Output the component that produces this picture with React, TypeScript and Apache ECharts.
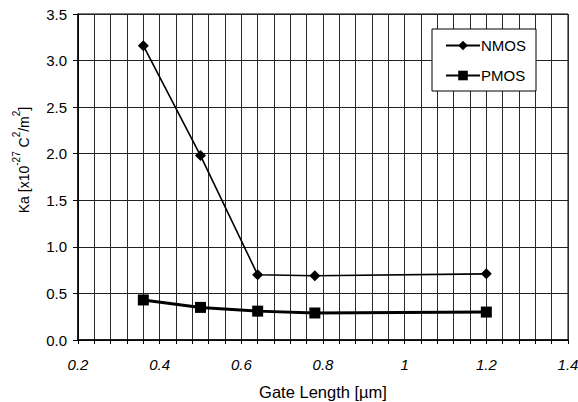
import React, { useEffect, useRef } from "react";
import * as echarts from "echarts";

const gateLength = [0.36, 0.5, 0.64, 0.78, 1.2];
const nmos = [3.16, 1.98, 0.7, 0.69, 0.71];
const pmos = [0.43, 0.35, 0.31, 0.29, 0.3];
const xTicks = { min: 0.2, max: 1.4, gridStep: 0.04, labelStep: 0.2 };
const yTicks = { min: 0, max: 3.5, interval: 0.5 };

export default function App() {
  const ref = useRef<HTMLDivElement>(null);
  useEffect(() => {
    const chart = echarts.init(ref.current!, null, { renderer: "svg" });
    const font = "Liberation Sans, Arial, sans-serif";
    const isMajor = (v: number) => Math.abs(v / xTicks.labelStep - Math.round(v / xTicks.labelStep)) < 1e-6;
    chart.setOption({
      animation: false,
      backgroundColor: "#fff",
      grid: {
        left: 78,
        right: 10,
        top: 14,
        bottom: 62,
        containLabel: false,
        outerBoundsMode: "none",
        show: true,
        borderColor: "#000",
        borderWidth: 1,
      },
      legend: {
        orient: "vertical",
        left: 432,
        top: 29,
        padding: [9, 10, 8, 13],
        itemWidth: 34,
        itemHeight: 12,
        itemGap: 15,
        backgroundColor: "#fff",
        borderColor: "#000",
        borderWidth: 1,
        textStyle: { fontFamily: font, fontSize: 15, color: "#000", padding: [0, 0, 0, -4] },
        data: ["NMOS", "PMOS"],
      },
      xAxis: {
        type: "value",
        min: xTicks.min,
        max: xTicks.max,
        interval: xTicks.gridStep,
        axisLine: { onZero: false, lineStyle: { color: "#000", width: 1.5 } },
        axisTick: { show: true, length: 4, lineStyle: { color: "#000" } },
        axisLabel: {
          fontFamily: font,
          fontSize: 15,
          fontStyle: "italic",
          color: "#000",
          margin: 17,
          hideOverlap: false,
          formatter: (v: number) => (isMajor(v) ? String(Math.round(v * 10) / 10) : ""),
        },
        splitLine: { show: true, lineStyle: { color: "#2a2a2a", width: 1 } },
        name: "Gate Length [\u00b5m]",
        nameLocation: "middle",
        nameGap: 43,
        nameTextStyle: { fontFamily: font, fontSize: 16.5, color: "#000" },
      },
      yAxis: {
        type: "value",
        min: yTicks.min,
        max: yTicks.max,
        interval: yTicks.interval,
        axisLine: { show: true, lineStyle: { color: "#000", width: 1.5 } },
        axisTick: { show: true, length: 5, lineStyle: { color: "#000" } },
        axisLabel: {
          fontFamily: font,
          fontSize: 15,
          color: "#000",
          margin: 11,
          formatter: (v: number) => v.toFixed(1),
        },
        splitLine: { show: true, lineStyle: { color: "#222", width: 1 } },
      },
      graphic: [
        {
          type: "text",
          x: 21,
          y: 160,
          rotation: Math.PI / 2,
          style: {
            text: "{n|Ka [x10}{s|-27}{n| C}{s|2}{n|/m}{s|2}{n|]}",
            align: "center",
            verticalAlign: "middle",
            fill: "#000",
            rich: {
              n: { fontFamily: font, fontSize: 14, fill: "#000", lineHeight: 20, verticalAlign: "bottom" },
              s: { fontFamily: font, fontSize: 10, fill: "#000", lineHeight: 20, verticalAlign: "top" },
            },
          },
        },
      ],
      series: [
        {
          name: "NMOS",
          type: "line",
          data: gateLength.map((x, i) => [x, nmos[i]]),
          symbol: "diamond",
          symbolSize: 11,
          lineStyle: { color: "#000", width: 1.6 },
          itemStyle: { color: "#000" },
        },
        {
          name: "PMOS",
          type: "line",
          data: gateLength.map((x, i) => [x, pmos[i]]),
          symbol: "rect",
          symbolSize: 11,
          lineStyle: { color: "#000", width: 3 },
          itemStyle: { color: "#000" },
        },
      ],
    });
    return () => chart.dispose();
  }, []);
  return <div ref={ref} style={{ width: 578, height: 402, position: "absolute", left: 0, top: 0 }} />;
}
